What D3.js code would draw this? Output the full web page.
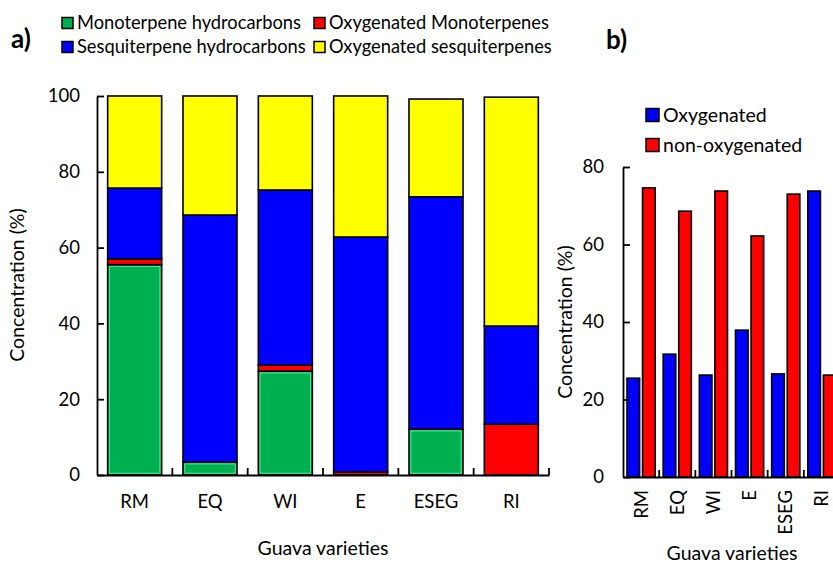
<!DOCTYPE html>
<html>
<head>
<meta charset="utf-8">
<script src="https://cdn.jsdelivr.net/npm/d3@7"></script>
<style>
	body { margin: 0; background: #fff; }
	text { font-family: Lato, "Open Sans", sans-serif; fill: #000; }
</style>
</head>
<body>
<svg id="chart"></svg>

<script type="text/javascript">

	// categories (same for both panels)
	const varieties = ["RM", "EQ", "WI", "E", "ESEG", "RI"]

	// panel a) stacked composition, %
	const monoHydro = [55.5, 3.4, 27.4, 0, 12.1, 0]
	const oxyMono = [1.5, 0, 1.6, 0.8, 0, 13.4]
	const sesqHydro = [18.7, 65.2, 46.2, 62.0, 61.3, 25.9]
	const oxySesq = [24.3, 31.4, 24.8, 37.2, 25.8, 60.4]

	// panel b) grouped, %
	const oxygenated = [25.5, 31.7, 26.3, 37.9, 26.6, 73.8]
	const nonOxygenated = [74.6, 68.6, 73.8, 62.2, 73.0, 26.3]

	const ticksA = [0, 20, 40, 60, 80, 100]
	const ticksB = [0, 20, 40, 60, 80]

	let width = 833
	let height = 564

	let chart = d3.select("#chart")
		.attr("width", width)
		.attr("height", height)

	let colourA = {
		"Monoterpene hydrocarbons": "#00B050",
		"Oxygenated Monoterpenes": "#FF0000",
		"Sesquiterpene hydrocarbons": "#0000FF",
		"Oxygenated sesquiterpenes": "#FFFF00"
	}
	let keysA = ["Monoterpene hydrocarbons", "Oxygenated Monoterpenes", "Sesquiterpene hydrocarbons", "Oxygenated sesquiterpenes"]

	let tableA = varieties.map(function(v, i){
		return {
			variety: v,
			"Monoterpene hydrocarbons": monoHydro[i],
			"Oxygenated Monoterpenes": oxyMono[i],
			"Sesquiterpene hydrocarbons": sesqHydro[i],
			"Oxygenated sesquiterpenes": oxySesq[i]
		}
	})

	//---------------- panel a ----------------
	let xA = d3.scaleBand()
		.domain(varieties)
		.range([97, 549])
		.paddingInner(0.283)
		.paddingOuter(0.1415)

	let yA = d3.scaleLinear()
		.domain([0, 100])
		.range([475, 96])

	let gA = chart.append("g")

	let stacked = d3.stack().keys(keysA)(tableA)

	let layers = gA.selectAll("g.layer")
		.data(stacked)
		.enter().append("g")
		.attr("class", "layer")

	layers.selectAll("rect")
		.data(function(d){ return d.map(function(p){ p.key = d.key; return p }) })
		.enter().append("rect")
		.attr("x", function(d){ return xA(d.data.variety) })
		.attr("width", xA.bandwidth())
		.attr("y", function(d){ return yA(d[1]) })
		.attr("height", function(d){ return yA(d[0]) - yA(d[1]) })
		.style("fill", function(d){ return colourA[d.key] })
		.style("stroke", "#000")
		.style("stroke-width", 1.6)

	// light inner edge on the green segments
	gA.selectAll("rect.glow")
		.data(stacked[0].filter(function(d){ return d[1] - d[0] > 1 }))
		.enter().append("rect")
		.attr("class", "glow")
		.attr("x", function(d){ return xA(d.data.variety) + 1.8 })
		.attr("width", xA.bandwidth() - 3.6)
		.attr("y", function(d){ return yA(d[1]) + 1.8 })
		.attr("height", function(d){ return yA(d[0]) - yA(d[1]) - 3.6 })
		.style("fill", "none")
		.style("stroke", "#4be89a")
		.style("stroke-width", 1)

	// y axis, ticks inside
	let yAxisA = d3.axisLeft(yA)
		.tickValues(ticksA)
		.tickSizeInner(-7)
		.tickSizeOuter(0)
		.tickPadding(17)

	let yGA = gA.append("g")
		.attr("transform", "translate(97,0)")
		.call(yAxisA)
	yGA.selectAll("path, line").style("stroke", "#000").style("stroke-width", 1.8)
	yGA.selectAll("text").style("font-size", "18.5px").style("font-family", "Lato")

	// x axis: labels under bars, ticks on category boundaries
	let xAxisA = d3.axisBottom(xA)
		.tickSize(0)
		.tickPadding(20)
	let xGA = gA.append("g")
		.attr("transform", "translate(0,475)")
		.call(xAxisA)
	xGA.select("path.domain").style("stroke", "#000").style("stroke-width", 1.8)
	xGA.selectAll("text").style("font-size", "18.5px").style("font-family", "Lato")

	gA.selectAll("line.bound")
		.data(d3.range(1, varieties.length + 1))
		.enter().append("line")
		.attr("class", "bound")
		.attr("x1", function(i){ return xA.range()[0] + i * xA.step() })
		.attr("x2", function(i){ return xA.range()[0] + i * xA.step() })
		.attr("y1", 475)
		.attr("y2", 468)
		.style("stroke", "#000")
		.style("stroke-width", 1.8)

	gA.append("text")
		.attr("transform", "translate(24,285) rotate(-90)")
		.attr("text-anchor", "middle")
		.style("font-size", "19.5px")
		.text("Concentration (%)")

	gA.append("text")
		.attr("x", 323)
		.attr("y", 555)
		.attr("text-anchor", "middle")
		.style("font-size", "19.5px")
		.text("Guava varieties")

	gA.append("text")
		.attr("x", 11)
		.attr("y", 48)
		.style("font-size", "26px")
		.style("font-weight", "bold")
		.text("a)")

	// legend a, two columns
	let legA = gA.selectAll("g.legA")
		.data(keysA)
		.enter().append("g")
		.attr("class", "legA")
		.attr("transform", function(d, i){
			let col = i % 2, row = Math.floor(i / 2)
			return "translate(" + (col == 0 ? 62 : 314) + "," + (row == 0 ? 23 : 47) + ")"
		})
	legA.append("rect")
		.attr("x", 0).attr("y", -5.5)
		.attr("width", 11).attr("height", 11)
		.style("fill", function(d){ return colourA[d] })
		.style("stroke", "#000")
		.style("stroke-width", 1.5)
	legA.append("text")
		.attr("x", 15)
		.attr("dy", "0.35em")
		.style("font-size", "18.3px")
		.text(function(d){ return d })

	//---------------- panel b ----------------
	let keysB = ["Oxygenated", "non-oxygenated"]
	let colourB = { "Oxygenated": "#0000FF", "non-oxygenated": "#FF0000" }
	let tableB = varieties.map(function(v, i){
		return { variety: v, "Oxygenated": oxygenated[i], "non-oxygenated": nonOxygenated[i] }
	})

	let xB = d3.scaleBand()
		.domain(varieties)
		.range([623, 840])

	let xB1 = d3.scaleBand()
		.domain(keysB)
		.range([0, xB.bandwidth()])
		.paddingInner(0.19)
		.paddingOuter(0.257)

	let yB = d3.scaleLinear()
		.domain([0, 80])
		.range([477, 167])

	let gB = chart.append("g")

	let groups = gB.selectAll("g.grp")
		.data(tableB)
		.enter().append("g")
		.attr("class", "grp")
		.attr("transform", function(d){ return "translate(" + xB(d.variety) + ",0)" })

	groups.selectAll("rect")
		.data(function(d){ return keysB.map(function(k){ return { key: k, value: d[k] } }) })
		.enter().append("rect")
		.attr("x", function(d){ return xB1(d.key) })
		.attr("width", xB1.bandwidth())
		.attr("y", function(d){ return yB(d.value) })
		.attr("height", function(d){ return yB(0) - yB(d.value) })
		.style("fill", function(d){ return colourB[d.key] })
		.style("stroke", "#000")
		.style("stroke-width", 1.6)

	let yAxisB = d3.axisLeft(yB)
		.tickValues(ticksB)
		.tickSizeInner(-7)
		.tickSizeOuter(0)
		.tickPadding(19)
	let yGB = gB.append("g")
		.attr("transform", "translate(623,0)")
		.call(yAxisB)
	yGB.selectAll("path, line").style("stroke", "#000").style("stroke-width", 1.8)
	yGB.selectAll("text").style("font-size", "18.5px").style("font-family", "Lato")

	let xAxisB = d3.axisBottom(xB).tickSize(0).tickPadding(0)
	let xGB = gB.append("g")
		.attr("transform", "translate(0,477)")
		.call(xAxisB)
	xGB.select("path.domain").style("stroke", "#000").style("stroke-width", 1.8)
	xGB.selectAll("text")
		.attr("transform", "rotate(-90)")
		.attr("x", -13)
		.attr("y", 0)
		.attr("dy", "0.35em")
		.attr("text-anchor", "end")
		.style("font-size", "18.5px")
		.style("font-family", "Lato")

	gB.selectAll("line.bound")
		.data(d3.range(1, varieties.length))
		.enter().append("line")
		.attr("class", "bound")
		.attr("x1", function(i){ return xB.range()[0] + i * xB.step() })
		.attr("x2", function(i){ return xB.range()[0] + i * xB.step() })
		.attr("y1", 477)
		.attr("y2", 470)
		.style("stroke", "#000")
		.style("stroke-width", 1.8)

	gB.append("text")
		.attr("transform", "translate(572,322) rotate(-90)")
		.attr("text-anchor", "middle")
		.style("font-size", "19.5px")
		.text("Concentration (%)")

	gB.append("text")
		.attr("x", 732)
		.attr("y", 560)
		.attr("text-anchor", "middle")
		.style("font-size", "19.5px")
		.text("Guava varieties")

	gB.append("text")
		.attr("x", 606)
		.attr("y", 49)
		.style("font-size", "26px")
		.style("font-weight", "bold")
		.text("b)")

	let legB = gB.selectAll("g.legB")
		.data(keysB)
		.enter().append("g")
		.attr("class", "legB")
		.attr("transform", function(d, i){ return "translate(646," + (115 + i * 30) + ")" })
	legB.append("rect")
		.attr("x", 0).attr("y", -6.5)
		.attr("width", 13).attr("height", 13)
		.style("fill", function(d){ return colourB[d] })
		.style("stroke", "#000")
		.style("stroke-width", 1.5)
	legB.append("text")
		.attr("x", 17)
		.attr("dy", "0.35em")
		.style("font-size", "19.5px")
		.text(function(d){ return d })

</script>
</body>
</html>
